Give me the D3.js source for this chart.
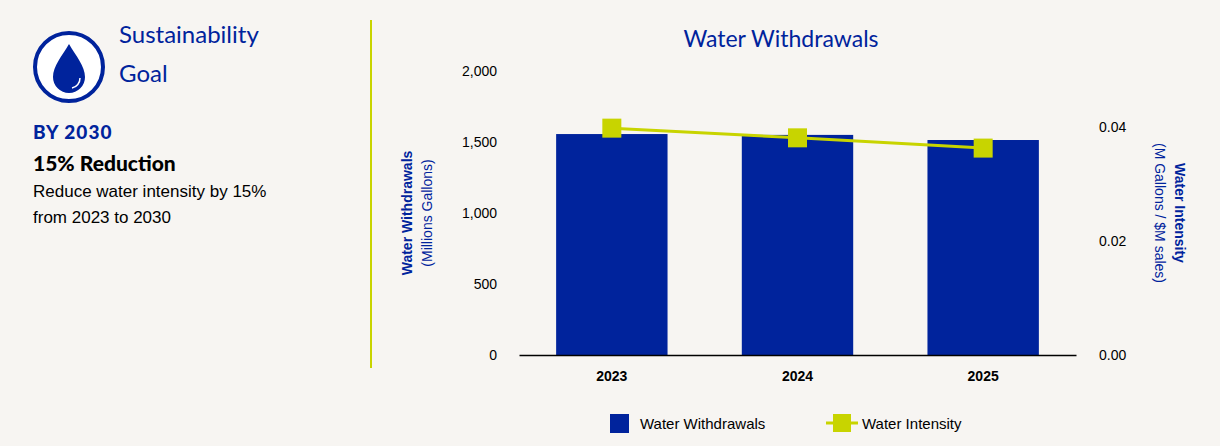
<!DOCTYPE html>
<html><head><meta charset="utf-8">
<script src="https://cdn.jsdelivr.net/npm/d3@7"></script>
<style>body{margin:0;background:#f7f5f2;font-family:"Liberation Sans",Arial,sans-serif}</style>
</head><body>
<svg id="chart" width="1220" height="446"></svg>
<script>
// chart data
const years = ['2023', '2024', '2025'];
const withdrawals = [1556, 1550, 1514];
const intensity = [0.0398, 0.0381, 0.0363];
const leftTicks = [0, 500, 1000, 1500, 2000];
const rightTicks = [0, 0.02, 0.04];

const blue = '#00239c', lime = '#c8d400';
let svg = d3.select('#chart');
svg.append('rect').attr('width', 1220).attr('height', 446).attr('fill', '#f7f5f2');

// left goal panel
svg.append('circle').attr('cx', 69).attr('cy', 67).attr('r', 34)
    .attr('fill', '#fff').attr('stroke', blue).attr('stroke-width', 4);
svg.append('path')
    .attr('d', 'M69,44 C62,56 53,66 53,77 A16,16 0 0 0 85,77 C85,66 76,56 69,44 Z')
    .attr('fill', blue);
svg.append('path').attr('d', 'M80,78 A10,10 0 0 1 72,88')
    .attr('fill', 'none').attr('stroke', '#fff').attr('stroke-width', 1.5);
svg.append('text').attr('x', 119).attr('y', 43).text('Sustainability')
    .style('font-family', 'Lato').style('font-size', '24px').attr('fill', blue);
svg.append('text').attr('x', 119).attr('y', 82).text('Goal')
    .style('font-family', 'Lato').style('font-size', '24px').attr('fill', blue);
svg.append('text').attr('x', 33).attr('y', 139).text('BY 2030')
    .style('font-family', 'Lato').style('font-weight', '900').style('font-size', '19px')
    .style('letter-spacing', '1px').attr('fill', blue);
svg.append('text').attr('x', 33).attr('y', 171).text('15% Reduction')
    .style('font-family', 'Lato').style('font-weight', '900').style('font-size', '21px').attr('fill', '#000');
svg.append('text').attr('x', 33).attr('y', 197).text('Reduce water intensity by 15%')
    .style('font-size', '17px').attr('fill', '#000');
svg.append('text').attr('x', 33).attr('y', 223).text('from 2023 to 2030')
    .style('font-size', '17px').attr('fill', '#000');
svg.append('line').attr('x1', 371).attr('x2', 371).attr('y1', 20).attr('y2', 368)
    .attr('stroke', lime).attr('stroke-width', 2);

// scales
let x = d3.scaleBand().domain(years).range([519, 1076]).padding(0.4).paddingOuter(0.2);
let yL = d3.scaleLinear().domain([0, 2000]).range([355, 71]);
let yR = d3.scaleLinear().domain([0, 0.04]).range([355, 127]);

svg.append('text').attr('x', 781).attr('y', 47).attr('text-anchor', 'middle')
    .text('Water Withdrawals').style('font-family', 'Lato').style('font-size', '23px').attr('fill', blue);

// bars
svg.selectAll('.bar').data(years).enter().append('rect')
    .attr('x', d => x(d)).attr('width', x.bandwidth())
    .attr('y', (d, i) => yL(withdrawals[i]))
    .attr('height', (d, i) => yL(0) - yL(withdrawals[i]))
    .attr('fill', blue);

// axes
let axL = svg.append('g').attr('transform', 'translate(500,0)')
    .call(d3.axisLeft(yL).tickValues(leftTicks).tickSize(0).tickFormat(d3.format(',')));
let axR = svg.append('g').attr('transform', 'translate(1096,0)')
    .call(d3.axisRight(yR).tickValues(rightTicks).tickSize(0).tickFormat(d3.format('.2f')));
let axX = svg.append('g').attr('transform', 'translate(0,355)')
    .call(d3.axisBottom(x).tickSize(0).tickPadding(16));
[axL, axR].forEach(a => a.select('.domain').remove());
axX.select('.domain').attr('stroke', '#000').attr('stroke-width', 1.5);
svg.selectAll('.tick text').style('font-size', '14px').style('font-family', 'Liberation Sans').attr('fill', '#000');
axX.selectAll('.tick text').style('font-weight', 'bold');

// intensity line
let line = d3.line().x(d => x(d[0]) + x.bandwidth() / 2).y(d => yR(d[1]));
let pts = years.map((d, i) => [d, intensity[i]]);
svg.append('path').datum(pts).attr('d', line).attr('fill', 'none')
    .attr('stroke', lime).attr('stroke-width', 3);
svg.selectAll('.pt').data(pts).enter().append('rect')
    .attr('x', d => x(d[0]) + x.bandwidth() / 2 - 9.5).attr('y', d => yR(d[1]) - 9.5)
    .attr('width', 19).attr('height', 19).attr('fill', lime);

// axis titles
let lt = svg.append('text').attr('transform', 'translate(412,213) rotate(-90)').attr('text-anchor', 'middle');
lt.append('tspan').text('Water Withdrawals').style('font-weight', 'bold').style('font-size', '14px').attr('fill', blue);
svg.append('text').attr('transform', 'translate(432,213) rotate(-90)').attr('text-anchor', 'middle')
    .text('(Millions Gallons)').style('font-size', '14px').attr('fill', blue);
svg.append('text').attr('transform', 'translate(1175,213) rotate(90)').attr('text-anchor', 'middle')
    .text('Water Intensity').style('font-weight', 'bold').style('font-size', '14px').attr('fill', blue);
svg.append('text').attr('transform', 'translate(1155,213) rotate(90)').attr('text-anchor', 'middle')
    .text('(M Gallons / $M sales)').style('font-size', '14px').attr('fill', blue);

// legend
svg.append('rect').attr('x', 610).attr('y', 414).attr('width', 19).attr('height', 19).attr('fill', blue);
svg.append('text').attr('x', 640).attr('y', 429).text('Water Withdrawals').style('font-size', '15px');
svg.append('line').attr('x1', 826).attr('x2', 858).attr('y1', 423).attr('y2', 423)
    .attr('stroke', lime).attr('stroke-width', 3);
svg.append('rect').attr('x', 833).attr('y', 414).attr('width', 18).attr('height', 18).attr('fill', lime);
svg.append('text').attr('x', 862).attr('y', 429).text('Water Intensity').style('font-size', '15px');
</script>
</body></html>
